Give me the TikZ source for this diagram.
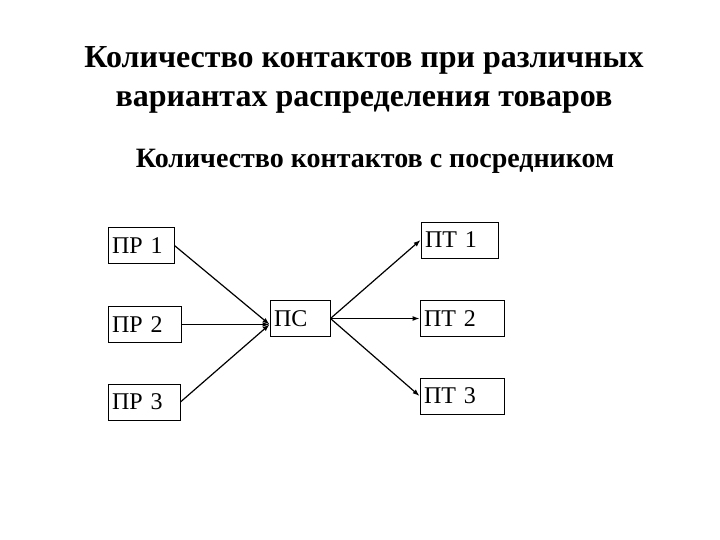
\documentclass[tikz,border=0pt]{standalone}
\usepackage{fontspec}
\setmainfont{Liberation Serif}
\usepackage{tikz}
\usetikzlibrary{arrows.meta, positioning}
\tikzset{
  agentbox/.style={
    draw, line width=0.9pt, align=left, fill=white,
    minimum height=36pt, inner xsep=4pt, inner ysep=0pt,
    font=\fontsize{24}{26}\selectfont
  },
  flowarrow/.style={
    -{Latex[length=7pt, width=5pt]}, line width=1.2pt
  },
  headline/.style={
    align=center, inner sep=0pt,
    font=\fontsize{32}{39}\selectfont\bfseries
  },
  subline/.style={
    inner sep=0pt, font=\fontsize{28}{30}\selectfont\bfseries
  },
}

\begin{document}
\begin{tikzpicture}[x=1pt, y=-1pt]
  \useasboundingbox (0,0) rectangle (720,540);

  % === Headings ===
  \node[headline, anchor=north] (title) at (364,46)
    {Количество контактов при различных\\вариантах распределения товаров};
  \node[subline, anchor=base] (subtitle) at (375,168)
    {Количество контактов с посредником};

  % === Producers ===
  \node[agentbox, text width=58pt] (pr1) at (141,245.5) {ПР 1};
  \node[agentbox, text width=65pt] (pr2) at (144.5,324.5) {ПР 2};
  \node[agentbox, text width=64pt] (pr3) at (144,402) {ПР 3};

  % === Intermediary ===
  \node[agentbox, text width=52pt] (ps) at (300,318.5) {ПС};

  % === Consumers ===
  \node[agentbox, text width=69pt] (pt1) at (459.5,240) {ПТ 1};
  \node[agentbox, text width=76pt] (pt2) at (462,318.5) {ПТ 2};
  \node[agentbox, text width=76pt] (pt3) at (462,396) {ПТ 3};

  % === Arrows ===
  \draw[flowarrow] (pr1.east) -- (pr2.east -| ps.west);
  \draw[flowarrow] (pr2.east) -- (pr2.east -| ps.west);
  \draw[flowarrow] (pr3.east) -- (pr2.east -| ps.west);
  \draw[flowarrow] (ps.east) -- (pt1.west);
  \draw[flowarrow] (ps.east) -- (pt2.west);
  \draw[flowarrow] (ps.east) -- (pt3.west);

\end{tikzpicture}
\end{document}
